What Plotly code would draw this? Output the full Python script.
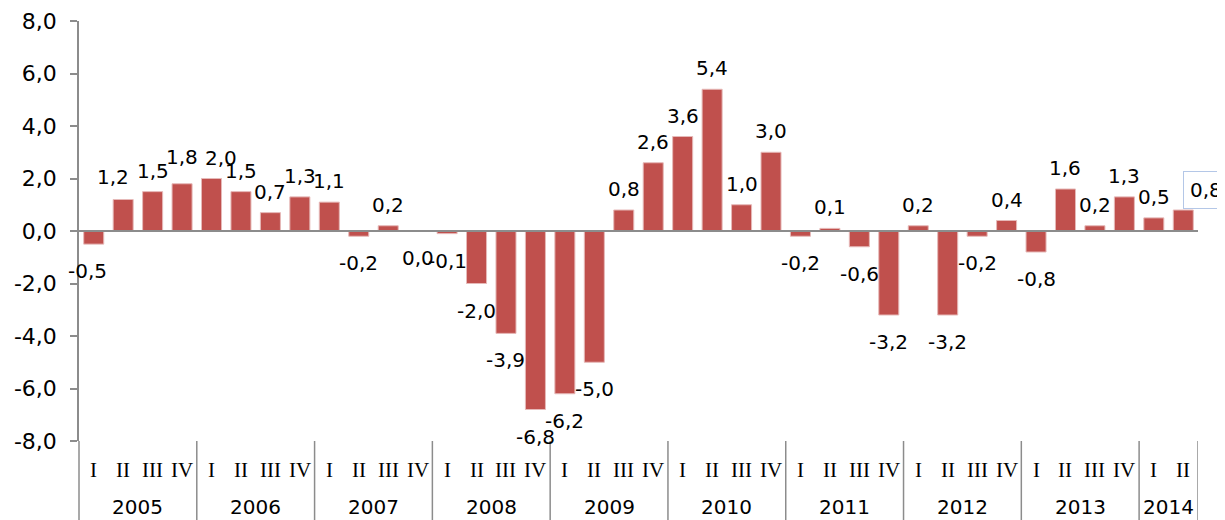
import plotly.graph_objects as go

years = ["2005", "2006", "2007", "2008", "2009", "2010", "2011", "2012", "2013", "2014"]
quarters = ["I", "II", "III", "IV"]
values = [
    -0.5, 1.2, 1.5, 1.8,
    2.0, 1.5, 0.7, 1.3,
    1.1, -0.2, 0.2, 0.0,
    -0.1, -2.0, -3.9, -6.8,
    -6.2, -5.0, 0.8, 2.6,
    3.6, 5.4, 1.0, 3.0,
    -0.2, 0.1, -0.6, -3.2,
    0.2, -3.2, -0.2, 0.4,
    -0.8, 1.6, 0.2, 1.3,
    0.5, 0.8,
]
y_ticks = [-8, -6, -4, -2, 0, 2, 4, 6, 8]

n = len(values)
q_labels = [quarters[i % 4] for i in range(n)]
year_of = [years[i // 4] for i in range(n)]
xs = list(range(n))

# pixel nudges for a few data labels (label placement, not data)
label_nudge = {0: (-6, 0), 1: (-10, 2), 3: (0, 6), 4: (9, 0)}

def fmt(v):
    return f"{v:.1f}".replace(".", ",")

fig = go.Figure()
fig.add_trace(go.Bar(
    x=xs, y=values,
    marker=dict(color="#C0504D", line=dict(color="#E6B9B8", width=1)),
    width=0.68, hoverinfo="x+y",
))

GREY = "#8C8C8C"
LBL = dict(family="DejaVu Sans", size=20, color="black")
shapes = []
annotations = []

# data labels
for i, v in enumerate(values):
    if i == n - 1:
        continue
    dx, dy = label_nudge.get(i, (0, 0))
    ys = 21 if v > 0 else -27
    annotations.append(dict(x=xs[i], y=v, xref="x", yref="y", text=fmt(v), showarrow=False,
                            xanchor="center", yanchor="middle", xshift=dx, yshift=ys + dy,
                            font=LBL))
# boxed last label
annotations.append(dict(x=xs[-1], y=values[-1], xref="x", yref="y", text=fmt(values[-1]),
                        showarrow=False, xanchor="center", yanchor="middle", xshift=23, yshift=20,
                        font=LBL, bordercolor="#B4C7E7", borderwidth=1, borderpad=6,
                        bgcolor="white"))

# quarter labels
for i in range(n):
    annotations.append(dict(x=xs[i], y=-29 / 420, xref="x", yref="paper", text=q_labels[i],
                            showarrow=False, font=dict(family="Liberation Serif", size=21, color="black"),
                            xanchor="center", yanchor="middle"))
# year labels and dividers
for yr in years:
    idx = [i for i in range(n) if year_of[i] == yr]
    cx = (idx[0] + idx[-1]) / 2
    annotations.append(dict(x=cx, y=-66 / 420, xref="x", yref="paper", text=yr, showarrow=False,
                            font=dict(family="DejaVu Sans", size=20, color="black"),
                            xanchor="center", yanchor="middle"))
    shapes.append(dict(type="line", xref="x", yref="paper", x0=idx[-1] + 0.5, x1=idx[-1] + 0.5,
                       y0=0, y1=-0.25, line=dict(color=GREY, width=1.5)))
# y axis line extension
shapes.append(dict(type="line", xref="paper", yref="paper", x0=0, x1=0, y0=0, y1=-0.25,
                   line=dict(color=GREY, width=1.5)))
# zero line drawn over bars
shapes.append(dict(type="line", xref="paper", yref="y", x0=0, x1=1, y0=0, y1=0,
                   line=dict(color=GREY, width=2), layer="above"))

fig.update_layout(
    width=1217, height=512,
    margin=dict(l=71, r=27, t=13, b=79),
    plot_bgcolor="white", paper_bgcolor="white",
    showlegend=False,
    shapes=shapes, annotations=annotations,
    xaxis=dict(range=[-0.5, n - 0.5], showticklabels=False, showgrid=False, zeroline=False,
               showline=False, ticks="", automargin=False),
    yaxis=dict(range=[-8, 8], tickmode="array", tickvals=y_ticks,
               ticktext=[fmt(t) for t in y_ticks], showgrid=False,
               showline=True, linecolor=GREY, linewidth=1.5,
               ticks="outside", ticklen=7, tickcolor=GREY, tickwidth=1.5,
               ticklabelstandoff=9, automargin=False,
               tickfont=dict(family="DejaVu Sans", size=22, color="black"),
               zeroline=False),
)

fig.write_html("out.html")
